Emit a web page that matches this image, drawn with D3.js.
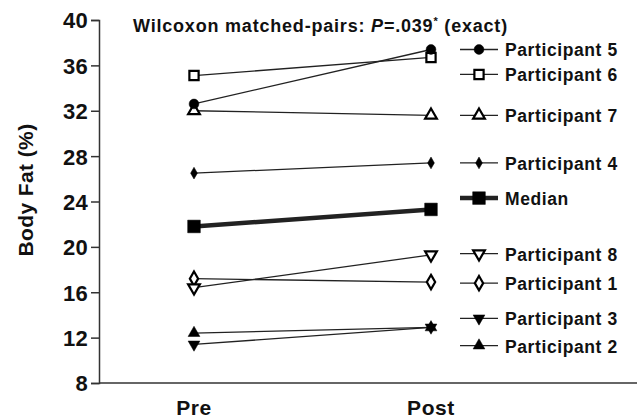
<!DOCTYPE html>
<html>
<head>
<meta charset="utf-8">
<script src="https://cdn.jsdelivr.net/npm/d3@7"></script>
<style>
  body { margin: 0; background: #fff; }
  text { font-family: "Liberation Sans", Arial, sans-serif; font-weight: bold; fill: #111; }
</style>
</head>
<body>
<div class="chart"></div>
<script>
var timepoints = ["Pre", "Post"];
var seriesNames = ["Participant 5", "Participant 6", "Participant 7", "Participant 4", "Median",
  "Participant 8", "Participant 1", "Participant 3", "Participant 2"];
var preValues  = [32.6, 35.1, 32.0, 26.5, 21.8, 16.4, 17.2, 11.4, 12.4];
var postValues = [37.4, 36.7, 31.6, 27.4, 23.3, 19.3, 16.9, 12.9, 12.9];
var markerKinds = ["circle", "square", "triangleUp", "diamondSmall", "squareBig",
  "triangleDown", "diamond", "triangleDown", "triangleUp"];
var markerFilled = [true, false, false, true, true, false, false, true, true];
var legendSlots = [37.4, 35.2, 31.6, 27.4, 24.3, 19.4, 16.8, 13.7, 11.3];
var yTicks = [8, 12, 16, 20, 24, 28, 32, 36, 40];

var width = 637, height = 418;
var margin = {top: 20, left: 99, bottom: 35};

var svg = d3.select(".chart")
  .append("svg")
  .attr("width", width)
  .attr("height", height);

var y = d3.scaleLinear()
  .domain([8, 40])
  .range([height - margin.bottom, margin.top]);

var x = d3.scalePoint()
  .domain(timepoints)
  .range([194, 431]);

// y axis
var yAxis = svg.append("g")
  .attr("transform", "translate(" + margin.left + ",0)")
  .call(d3.axisLeft(y).tickValues(yTicks).tickSize(8).tickPadding(3));
yAxis.select(".domain").attr("stroke", "#333").attr("stroke-width", 1.5);
yAxis.selectAll(".tick line").attr("stroke", "#333").attr("stroke-width", 1.5);
yAxis.selectAll("text")
  .style("font-size", "22px")
  .style("letter-spacing", "0.3px")
  .style("font-family", "Liberation Sans, Arial, sans-serif")
  .style("font-weight", "bold")
  .attr("dy", "0.36em")
  .attr("fill", "#111");

// x axis line
svg.append("line")
  .attr("x1", margin.left).attr("x2", width)
  .attr("y1", y(8)).attr("y2", y(8))
  .attr("stroke", "#333").attr("stroke-width", 1.5);

svg.selectAll(".xlabel")
  .data(timepoints)
  .enter().append("text")
  .attr("class", "xlabel")
  .attr("x", d => x(d))
  .attr("y", 415)
  .attr("text-anchor", "middle")
  .style("font-size", "21px")
  .style("letter-spacing", "0.6px")
  .text(d => d);

svg.append("text")
  .attr("transform", "translate(33," + 190 + ") rotate(-90)")
  .attr("text-anchor", "middle")
  .style("font-size", "21px")
  .style("letter-spacing", "0.4px")
  .text("Body Fat (%)");

// title
var title = svg.append("text")
  .attr("x", 133)
  .attr("y", 32)
  .style("font-size", "18px")
  .style("letter-spacing", "0.8px");
title.append("tspan").text("Wilcoxon matched-pairs: ");
title.append("tspan").style("font-style", "italic").text("P");
title.append("tspan").text("=.039");
title.append("tspan").attr("dy", -7).style("font-size", "11px").text("*");
title.append("tspan").attr("dy", 7).text(" (exact)");

function markerPath(kind) {
  var sym = {
    circle: [d3.symbolCircle, 75],
    square: [d3.symbolSquare, 85],
    squareBig: [d3.symbolSquare, 160],
    triangleUp: [d3.symbolTriangle, 60],
    triangleDown: [d3.symbolTriangle, 60],
    diamond: [d3.symbolDiamond, 60],
    diamondSmall: [d3.symbolDiamond, 40]
  }[kind];
  return d3.symbol().type(sym[0]).size(sym[1])();
}

function drawMarker(g, i, cx, cy) {
  var rot = markerKinds[i] === "triangleDown" ? " rotate(180)" : "";
  g.append("path")
    .attr("d", markerPath(markerKinds[i]))
    .attr("transform", "translate(" + cx + "," + cy + ")" + rot)
    .attr("fill", markerFilled[i] ? "#000" : "#fff")
    .attr("stroke", "#000")
    .attr("stroke-width", markerFilled[i] ? 0.5 : 2.2);
}

var series = seriesNames.map((name, i) => ({name: name, i: i, values: [preValues[i], postValues[i]]}));

var line = d3.line()
  .x((d, j) => x(timepoints[j]))
  .y(d => y(d));

var lines = svg.append("g");
series.forEach(s => {
  lines.append("path")
    .attr("d", line(s.values))
    .attr("fill", "none")
    .attr("stroke", "#222")
    .attr("stroke-width", s.name === "Median" ? 4.5 : 1.3);
});

var marks = svg.append("g");
series.slice().reverse().forEach(s => {
  s.values.forEach((v, j) => drawMarker(marks, s.i, x(timepoints[j]), y(v)));
});

// legend
var legend = svg.append("g");
series.forEach(s => {
  var ly = y(legendSlots[s.i]);
  legend.append("line")
    .attr("x1", 460).attr("x2", 498)
    .attr("y1", ly).attr("y2", ly)
    .attr("stroke", "#222")
    .attr("stroke-width", s.name === "Median" ? 4.5 : 1.3);
  drawMarker(legend, s.i, 479, ly);
  legend.append("text")
    .attr("x", 505)
    .attr("y", ly + 7)
    .style("font-size", "17.5px")
    .style("letter-spacing", "0.6px")
    .text(s.name);
});
</script>
</body>
</html>
